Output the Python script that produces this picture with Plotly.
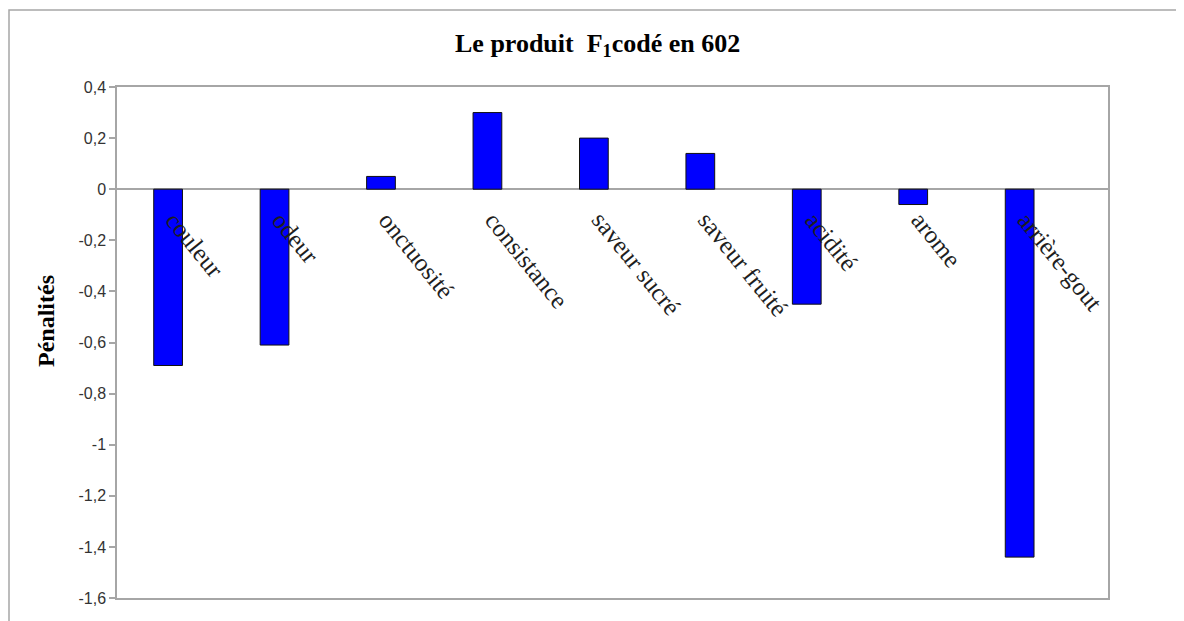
import plotly.graph_objects as go

categories = ["couleur", "odeur", "onctuosité", "consistance", "saveur sucré",
              "saveur fruité", "acidité", "arome", "arrière-gout"]
penalites = [-0.69, -0.61, 0.05, 0.30, 0.20, 0.14, -0.45, -0.06, -1.44]

tick_vals = [0.4, 0.2, 0, -0.2, -0.4, -0.6, -0.8, -1, -1.2, -1.4, -1.6]
tick_text = ["0,4", "0,2", "0", "-0,2", "-0,4", "-0,6", "-0,8", "-1", "-1,2", "-1,4", "-1,6"]

GRAY = "#a6a6a6"
idx = list(range(len(categories)))

# page body has an 8px margin: figure origin is at (8, 8)
W, H = 1176, 613
L, T, PW, PH = 109, 79, 991, 511

fig = go.Figure()
fig.add_trace(go.Bar(
    x=idx, y=penalites, width=0.27,
    marker=dict(color="#0000ff", line=dict(color="#111111", width=1)),
    hoverinfo="y", showlegend=False,
))

for i, c in zip(idx, categories):
    fig.add_annotation(
        x=i, y=0, xref="x", yref="y", text=c, showarrow=False,
        textangle=51, xanchor="left", yanchor="top", xshift=-10, yshift=-15,
        font=dict(family="Liberation Serif", size=25, color="#1e1e1e"),
    )

fig.add_annotation(
    x=0.485, y=1.0 + (87 - 45) / PH, xref="paper", yref="paper",
    text="<b>Le produit  F<sub>1</sub>codé en 602</b>", showarrow=False,
    xanchor="center", yanchor="middle",
    font=dict(family="Liberation Serif", size=26, color="#000000"),
)
fig.add_annotation(
    x=(46 - 117) / PW, y=(598 - 321) / PH, xref="paper", yref="paper",
    text="<b>Pénalités</b>", showarrow=False, textangle=-90,
    xanchor="center", yanchor="middle",
    font=dict(family="Liberation Serif", size=24, color="#000000"),
)

fig.add_shape(type="rect", xref="paper", yref="paper",
              x0=(9 - 117) / PW, x1=(1183 - 117) / PW, y0=-0.2, y1=(598 - 10) / PH,
              line=dict(color=GRAY, width=1.5), layer="below")

fig.update_layout(
    width=W, height=H,
    margin=dict(l=L, r=W - L - PW, t=T, b=H - T - PH),
    paper_bgcolor="white", plot_bgcolor="white",
    xaxis=dict(range=[-0.48, 8.83], showticklabels=False, ticks="",
               showgrid=False, zeroline=False,
               showline=True, mirror=True, linecolor=GRAY, linewidth=1.5),
    yaxis=dict(range=[-1.6, 0.4], tickvals=tick_vals, ticktext=tick_text,
               ticks="outside", ticklen=6, tickcolor=GRAY, tickwidth=1.5,
               showgrid=False, zeroline=True, zerolinecolor=GRAY, zerolinewidth=1.5,
               showline=True, mirror=True, linecolor=GRAY, linewidth=1.5,
               tickfont=dict(family="Liberation Sans", size=16, color="#333333")),
)

fig.write_html("out.html")
